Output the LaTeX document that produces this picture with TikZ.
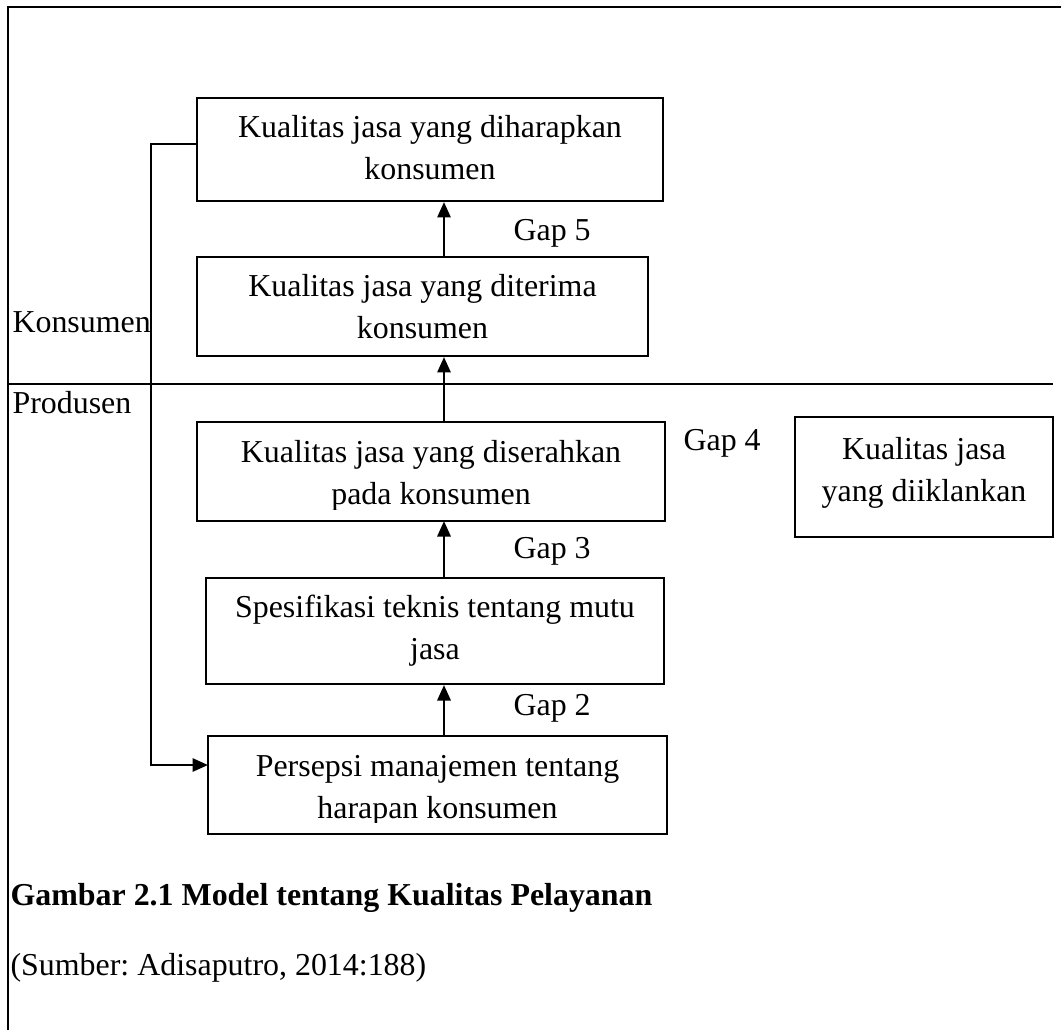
\documentclass[tikz,border=0pt]{standalone}
\usepackage{fontspec}
\setmainfont{Liberation Serif}
\usetikzlibrary{arrows.meta}
\frenchspacing
\newcommand{\px}{0.376pt}
\newcommand{\txtfont}{\fontsize{12}{15.8}\selectfont}
\tikzset{
  frame/.style={line width=0.8pt},
  box/.style={draw, line width=0.8pt, inner sep=0pt},
  boxtext/.style={anchor=north, align=center, inner sep=0pt, font=\txtfont},
  lbl/.style={inner sep=0pt, anchor=base west, font=\txtfont},
  arr/.style={line width=0.8pt, -{Triangle[length=5.8pt,width=5pt]}},
}
\begin{document}
\begin{tikzpicture}[x=0.376pt,y=-0.376pt]
\useasboundingbox (0,0) rectangle (1061,1030);

% Frame and divider
\draw[frame] (8,1030) -- (8,7) -- (1061,7);
\draw[frame] (8,384) -- (1053,384);

% Boxes
\node[box,minimum width=466*\px,minimum height=103*\px] (b1) at (430,149.5) {};
\node[box,minimum width=451*\px,minimum height=99*\px] (b2) at (422.5,306.5) {};
\node[box,draw=none,minimum width=466*\px,minimum height=97*\px] (b3) at (431,471.5) {};
\node[box,minimum width=458*\px,minimum height=106*\px] (b4) at (435,631) {};
\node[box,draw=none,minimum width=457*\px,minimum height=96*\px] (b5) at (437.5,785) {};
\node[box,minimum width=258*\px,minimum height=120*\px] (b6) at (924,477) {};

% Box texts
\node[boxtext] (t1) at ([yshift=-10.6*\px]b1.north) {\strut Kualitas jasa yang diharapkan\\konsumen};
\node[boxtext] (t2) at ([yshift=-10.6*\px]b2.north) {\strut Kualitas jasa yang diterima\\konsumen};
\node[boxtext] (t3) at ([yshift=-10.6*\px]b3.north) {\strut Kualitas jasa yang diserahkan\\pada konsumen};
\node[boxtext] (t4) at ([yshift=-10.6*\px]b4.north) {\strut Spesifikasi teknis tentang mutu\\jasa};
\node[boxtext] (t5) at ([yshift=-10.6*\px]b5.north) {\strut Persepsi manajemen tentang\\harapan konsumen};
\node[boxtext] (t6) at ([yshift=-13.6*\px]b6.north) {\strut Kualitas jasa\\yang diiklankan};

% clipped last lines
\fill[white] (b3.south west) rectangle ([yshift=11*\px]b3.south east);
\fill[white] (b5.south west) rectangle ([yshift=11*\px]b5.south east);
\draw[box] (b3.south west) rectangle (b3.north east);
\draw[box] (b5.south west) rectangle (b5.north east);

% Arrows
\coordinate (ax) at (444,0);
\draw[arr] (b2.north -| ax) -- (b1.south -| ax);
\draw[arr] (b3.north -| ax) -- (b2.south -| ax);
\draw[arr] (b4.north -| ax) -- (b3.south -| ax);
\draw[arr] (b5.north -| ax) -- (b4.south -| ax);
\draw[arr] ([yshift=5.5*\px]b1.west) -- ++(-45,0) |- ([yshift=20*\px]b5.west);

% Labels
\node[lbl] (konsumen) at (12,332) {Konsumen};
\node[lbl] (produsen) at (12,413) {Produsen};
\node[lbl] (gap5) at (513,240) {Gap 5};
\node[lbl] (gap4) at (683,450) {Gap 4};
\node[lbl] (gap3) at (513,558) {Gap 3};
\node[lbl] (gap2) at (513,715) {Gap 2};

% Caption
\node[lbl,font=\txtfont\bfseries] (caption) at (10,905) {Gambar 2.1 Model tentang Kualitas Pelayanan};
\node[lbl] (source) at (10,975) {(Sumber: Adisaputro, 2014:188)};
\end{tikzpicture}
\end{document}
